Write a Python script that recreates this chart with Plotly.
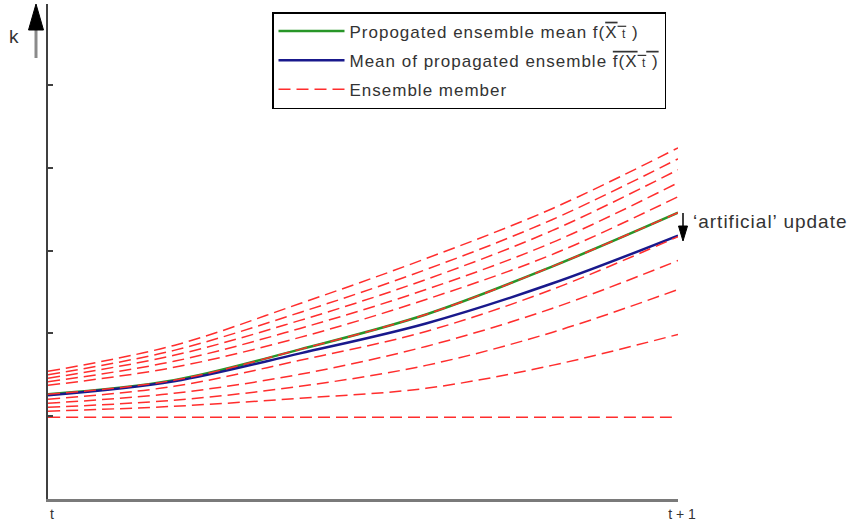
import plotly.graph_objects as go

# time positions between t (0) and t+1 (1)
s = [0.0, 0.2, 0.4, 0.6, 0.8, 1.0]

# propagated ensemble mean f(mean X_t)  (green)
green_mean = [1.265, 1.434, 1.807, 2.229, 2.807, 3.458]
# mean of propagated ensemble mean(f(X_t))  (blue)
blue_mean = [1.253, 1.422, 1.759, 2.120, 2.602, 3.181]

# ensemble members (red dashed)
member_A = [1.542, 1.855, 2.361, 2.904, 3.506, 4.241]
member_B = [1.500, 1.795, 2.253, 2.771, 3.373, 4.108]
member_C = [1.458, 1.735, 2.157, 2.651, 3.241, 3.976]
member_D = [1.416, 1.663, 2.060, 2.530, 3.096, 3.819]
member_E = [1.373, 1.590, 1.952, 2.410, 2.952, 3.651]
member_G = [1.265, 1.434, 1.807, 2.229, 2.807, 3.458]
member_H = [1.205, 1.361, 1.675, 2.024, 2.530, 3.169]
member_I = [1.157, 1.277, 1.506, 1.843, 2.301, 2.880]
member_J = [1.108, 1.193, 1.361, 1.614, 2.012, 2.530]
member_K = [1.060, 1.120, 1.217, 1.337, 1.614, 1.988]
member_L = [0.988, 0.988, 0.988, 0.988, 0.988, 0.988]
members = [member_A, member_B, member_C, member_D, member_E, member_G,
           member_H, member_I, member_J, member_K, member_L]

x_tickvals = [0, 1]
x_ticktext = ["t", "t + 1"]
y_tickvals = [1, 2, 3, 4, 5]

FONT = "Liberation Sans, Arial, sans-serif"
TXT = "#333333"
RED = "rgb(255,45,45)"
LS = "<span style='letter-spacing:1px'>{}</span>"
OL = "<span style='text-decoration:overline'>{}</span>"
XT = "X<span style='font-size:12px'> t</span>"

fig = go.Figure()
fig.add_trace(go.Scatter(
    x=s, y=green_mean, mode="lines", line=dict(color="rgb(40,150,40)", width=2.5, shape="spline"),
    name=LS.format("Propogated ensemble mean f(" + OL.format(XT) + " )"),
    legendgroup="g1"))
fig.add_trace(go.Scatter(
    x=s, y=blue_mean, mode="lines", line=dict(color="rgb(25,25,140)", width=2.5, shape="spline"),
    name=LS.format("Mean of propagated ensemble " + OL.format("f(" + XT + " )")),
    legendgroup="g2"))
for i, m in enumerate(members):
    fig.add_trace(go.Scatter(
        x=s, y=m, mode="lines",
        line=dict(color=RED, width=1.5, dash="12px,6px", shape="spline"),
        name=LS.format("Ensemble member"), legendgroup="g3", showlegend=(i == 0)))

W, H = 857, 526
ml, mr, mt, mb = 48, 179, 4, 27
pw, ph = W - ml - mr, H - mt - mb
ppu = 82.8  # pixels per k unit

def px(xp):
    return (xp - ml) / pw

def py(yp):
    return (H - mb - yp) / ph

shapes = [
    # k axis arrow (shaft + head)
    dict(type="line", xref="paper", yref="paper", x0=px(36), x1=px(36), y0=py(58), y1=py(28),
         line=dict(color="#8a8a8a", width=3)),
    dict(type="path", xref="paper", yref="paper",
         path=f"M {px(28.5)},{py(30)} L {px(36)},{py(4)} L {px(43.5)},{py(30)} Z",
         fillcolor="black", line=dict(color="black", width=1)),
    # artificial update arrow
    dict(type="line", xref="paper", yref="paper", x0=px(683), x1=px(683), y0=py(213), y1=py(228),
         line=dict(color="black", width=1.5)),
    dict(type="path", xref="paper", yref="paper",
         path=f"M {px(678.5)},{py(226)} L {px(683)},{py(241)} L {px(687.5)},{py(226)} Z",
         fillcolor="black", line=dict(color="black", width=1)),
]

annotations = [
    dict(text="k", xref="paper", yref="paper", x=px(14), y=py(37), showarrow=False,
         font=dict(family=FONT, size=19, color=TXT), xanchor="center", yanchor="middle"),
    dict(text="<span style='letter-spacing:1px'>\u2018artificial\u2019 update</span>",
         xref="paper", yref="paper",
         x=px(691), y=py(221), showarrow=False,
         font=dict(family=FONT, size=19, color=TXT), xanchor="left", yanchor="middle"),
]

fig.update_layout(
    width=W, height=H, margin=dict(l=ml, r=mr, t=mt, b=mb),
    paper_bgcolor="white", plot_bgcolor="white",
    font=dict(family=FONT, color=TXT),
    shapes=shapes, annotations=annotations,
    legend=dict(x=px(272), y=py(12), xanchor="left", yanchor="top",
                bgcolor="white", bordercolor="black", borderwidth=1.5,
                font=dict(family=FONT, size=17, color=TXT),
                itemwidth=66, tracegroupgap=4),
    xaxis=dict(range=[0, 1], showline=True, linecolor="#7a7a7a", linewidth=3,
               tickvals=x_tickvals, ticktext=x_ticktext, ticks="inside", ticklen=6,
               tickwidth=1.5, tickcolor="#333333", showgrid=False, zeroline=False,
               ticklabelshift=4,
               tickfont=dict(family=FONT, size=14, color=TXT), fixedrange=True),
    yaxis=dict(range=[0, ph / ppu], showline=True, linecolor="#404040", linewidth=2,
               tickvals=y_tickvals, ticks="inside", ticklen=5, tickwidth=1.5,
               tickcolor="#404040", showticklabels=False, showgrid=False, zeroline=False,
               fixedrange=True),
)

fig.write_html("out.html")
